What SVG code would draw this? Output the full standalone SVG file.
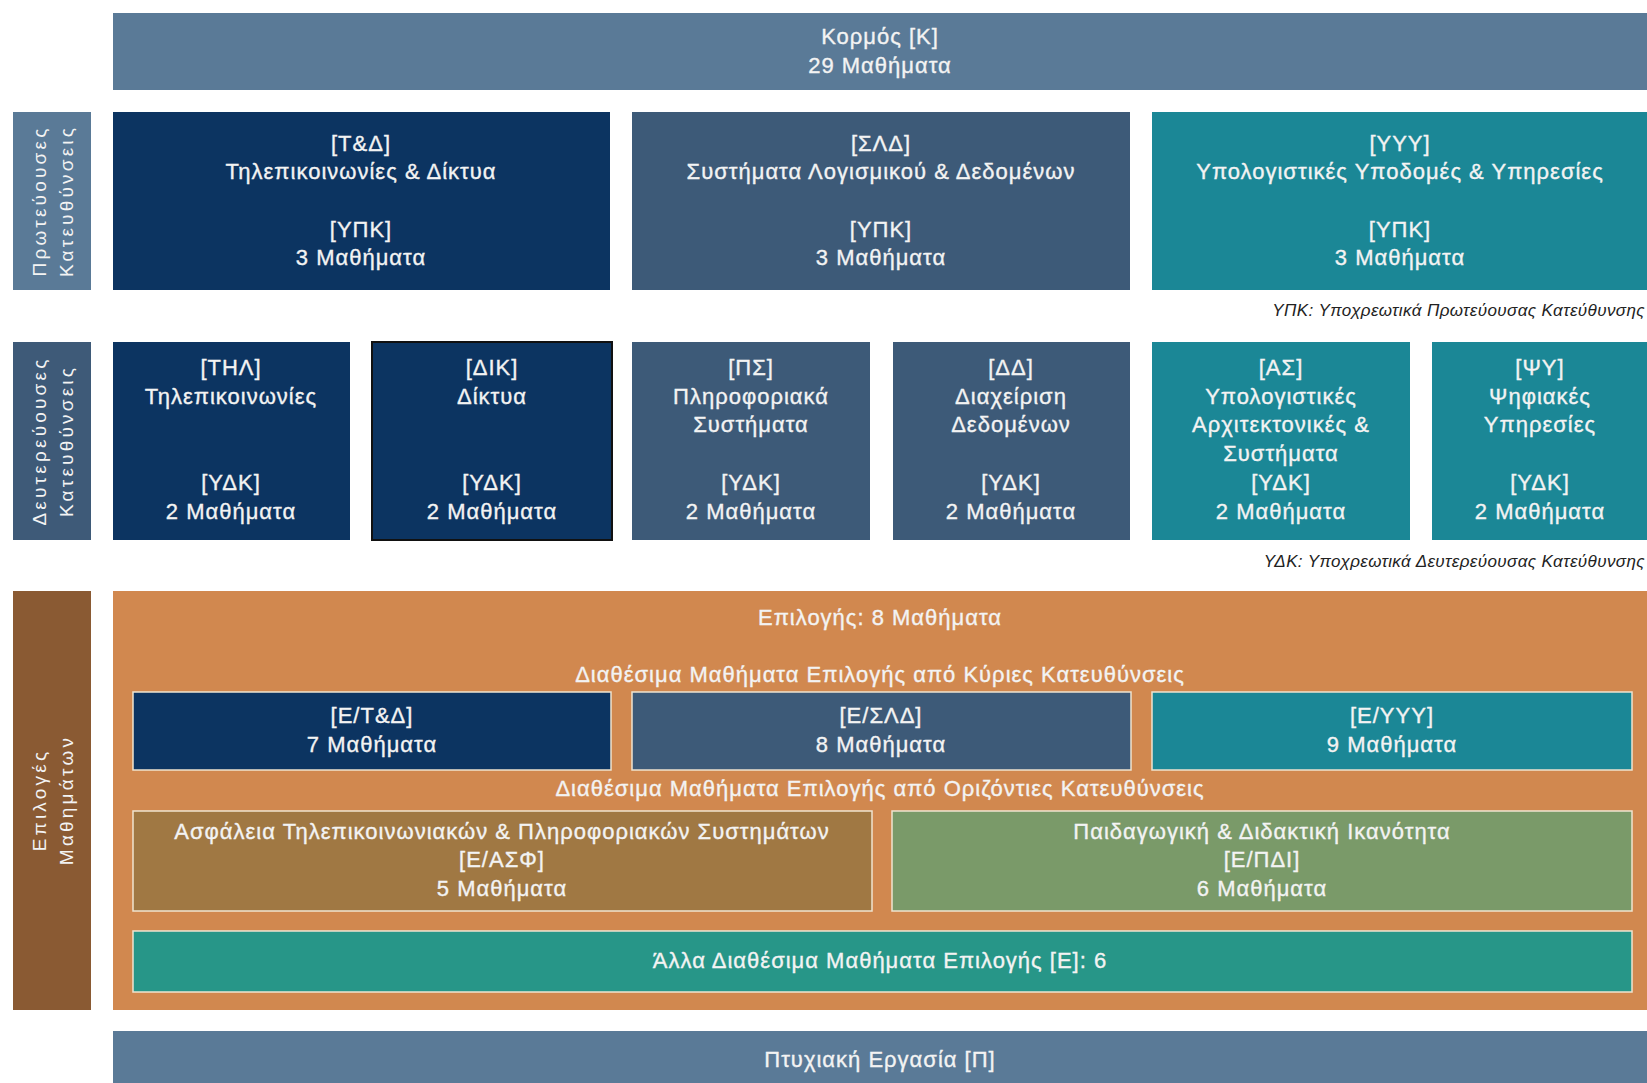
<svg xmlns="http://www.w3.org/2000/svg" width="1647" height="1083" viewBox="0 0 1647 1083">
<style>
text{font-family:"Liberation Sans",Arial,sans-serif;}
.t{font-size:22px;fill:#f3f3f3;stroke:#f3f3f3;stroke-width:0.35px;text-anchor:middle;letter-spacing:1px;}
.side{font-size:19px;fill:#f3f3f3;text-anchor:middle;letter-spacing:3.2px;}
.note{font-size:17px;fill:#222;font-style:italic;text-anchor:end;letter-spacing:0.4px;}
.inner{stroke:#efe3cf;stroke-width:1.5;}
</style>
<rect width="1647" height="1083" fill="#ffffff"/>
<g id="korm"><rect x="113" y="13" width="1534" height="77" fill="#5a7a97"/>
<text class="t" x="880" y="44">Κορμός [Κ]</text><text class="t" x="880" y="73">29 Μαθήματα</text></g>

<g id="side-primary"><rect x="13" y="112" width="78" height="178" fill="#5a7a97"/>
<text class="side" transform="translate(52,201) rotate(-90)"><tspan x="0" y="-6">Πρωτεύουσες</tspan><tspan x="0" y="21">Κατευθύνσεις</tspan></text></g>

<g id="td"><rect x="113" y="112" width="497" height="178" fill="#0c3461"/>
<text class="t" x="361" y="151">[Τ&amp;Δ]</text><text class="t" x="361" y="179">Τηλεπικοινωνίες &amp; Δίκτυα</text>
<text class="t" x="361" y="237">[ΥΠΚ]</text><text class="t" x="361" y="265">3 Μαθήματα</text></g>

<g id="sld"><rect x="632" y="112" width="498" height="178" fill="#3d5a78"/>
<text class="t" x="881" y="151">[ΣΛΔ]</text><text class="t" x="881" y="179">Συστήματα Λογισμικού &amp; Δεδομένων</text>
<text class="t" x="881" y="237">[ΥΠΚ]</text><text class="t" x="881" y="265">3 Μαθήματα</text></g>

<g id="yyy"><rect x="1152" y="112" width="495" height="178" fill="#1b8796"/>
<text class="t" x="1400" y="151">[ΥΥΥ]</text><text class="t" x="1400" y="179">Υπολογιστικές Υποδομές &amp; Υπηρεσίες</text>
<text class="t" x="1400" y="237">[ΥΠΚ]</text><text class="t" x="1400" y="265">3 Μαθήματα</text></g>

<text class="note" x="1645" y="316">ΥΠΚ: Υποχρεωτικά Πρωτεύουσας Κατεύθυνσης</text>

<g id="side-secondary"><rect x="13" y="342" width="78" height="198" fill="#3e5a78"/>
<text class="side" transform="translate(52,441) rotate(-90)"><tspan x="0" y="-6">Δευτερεύουσες</tspan><tspan x="0" y="21">Κατευθύνσεις</tspan></text></g>

<g id="thl"><rect x="113" y="342" width="237" height="198" fill="#0c3461"/>
<text class="t" x="231" y="375">[ΤΗΛ]</text><text class="t" x="231" y="404">Τηλεπικοινωνίες</text>
<text class="t" x="231" y="490">[ΥΔΚ]</text><text class="t" x="231" y="519">2 Μαθήματα</text></g>

<g id="dik"><rect x="372" y="342" width="240" height="198" fill="#0c3461" stroke="#111" stroke-width="2"/>
<text class="t" x="492" y="375">[ΔΙΚ]</text><text class="t" x="492" y="404">Δίκτυα</text>
<text class="t" x="492" y="490">[ΥΔΚ]</text><text class="t" x="492" y="519">2 Μαθήματα</text></g>

<g id="ps"><rect x="632" y="342" width="238" height="198" fill="#3d5a78"/>
<text class="t" x="751" y="375">[ΠΣ]</text><text class="t" x="751" y="404">Πληροφοριακά</text><text class="t" x="751" y="432">Συστήματα</text>
<text class="t" x="751" y="490">[ΥΔΚ]</text><text class="t" x="751" y="519">2 Μαθήματα</text></g>

<g id="dd"><rect x="893" y="342" width="237" height="198" fill="#3d5a78"/>
<text class="t" x="1011" y="375">[ΔΔ]</text><text class="t" x="1011" y="404">Διαχείριση</text><text class="t" x="1011" y="432">Δεδομένων</text>
<text class="t" x="1011" y="490">[ΥΔΚ]</text><text class="t" x="1011" y="519">2 Μαθήματα</text></g>

<g id="as"><rect x="1152" y="342" width="258" height="198" fill="#1b8796"/>
<text class="t" x="1281" y="375">[ΑΣ]</text><text class="t" x="1281" y="404">Υπολογιστικές</text><text class="t" x="1281" y="432">Αρχιτεκτονικές &amp;</text><text class="t" x="1281" y="461">Συστήματα</text>
<text class="t" x="1281" y="490">[ΥΔΚ]</text><text class="t" x="1281" y="519">2 Μαθήματα</text></g>

<g id="psy"><rect x="1432" y="342" width="215" height="198" fill="#1b8796"/>
<text class="t" x="1540" y="375">[ΨΥ]</text><text class="t" x="1540" y="404">Ψηφιακές</text><text class="t" x="1540" y="432">Υπηρεσίες</text>
<text class="t" x="1540" y="490">[ΥΔΚ]</text><text class="t" x="1540" y="519">2 Μαθήματα</text></g>

<text class="note" x="1645" y="567">ΥΔΚ: Υποχρεωτικά Δευτερεύουσας Κατεύθυνσης</text>

<g id="side-electives"><rect x="13" y="591" width="78" height="419" fill="#8a5a33"/>
<text class="side" transform="translate(52,800) rotate(-90)"><tspan x="0" y="-6">Επιλογές</tspan><tspan x="0" y="21">Μαθημάτων</tspan></text></g>

<g id="electives"><rect x="113" y="591" width="1534" height="419" fill="#d1884f"/>
<text class="t" x="880" y="625">Επιλογής: 8 Μαθήματα</text>
<text class="t" x="880" y="682">Διαθέσιμα Μαθήματα Επιλογής από Κύριες Κατευθύνσεις</text>
<text class="t" x="880" y="796">Διαθέσιμα Μαθήματα Επιλογής από Οριζόντιες Κατευθύνσεις</text></g>

<g id="e-td"><rect class="inner" x="133" y="692" width="478" height="78" fill="#0c3461"/>
<text class="t" x="372" y="723">[Ε/Τ&amp;Δ]</text><text class="t" x="372" y="752">7 Μαθήματα</text></g>

<g id="e-sld"><rect class="inner" x="632" y="692" width="499" height="78" fill="#3d5a78"/>
<text class="t" x="881" y="723">[Ε/ΣΛΔ]</text><text class="t" x="881" y="752">8 Μαθήματα</text></g>

<g id="e-yyy"><rect class="inner" x="1152" y="692" width="480" height="78" fill="#1b8796"/>
<text class="t" x="1392" y="723">[Ε/ΥΥΥ]</text><text class="t" x="1392" y="752">9 Μαθήματα</text></g>

<g id="e-asf"><rect class="inner" x="133" y="811" width="739" height="100" fill="#a07843"/>
<text class="t" x="502" y="839">Ασφάλεια Τηλεπικοινωνιακών &amp; Πληροφοριακών Συστημάτων</text>
<text class="t" x="502" y="867">[Ε/ΑΣΦ]</text><text class="t" x="502" y="896">5 Μαθήματα</text></g>

<g id="e-pdi"><rect class="inner" x="892" y="811" width="740" height="100" fill="#7a9a69"/>
<text class="t" x="1262" y="839">Παιδαγωγική &amp; Διδακτική Ικανότητα</text>
<text class="t" x="1262" y="867">[Ε/ΠΔΙ]</text><text class="t" x="1262" y="896">6 Μαθήματα</text></g>

<g id="e-other"><rect class="inner" x="133" y="931" width="1499" height="61" fill="#279688"/>
<text class="t" x="880" y="968">Άλλα Διαθέσιμα Μαθήματα Επιλογής [Ε]: 6</text></g>

<g id="thesis"><rect x="113" y="1031" width="1534" height="60" fill="#5a7a97"/>
<text class="t" x="880" y="1067">Πτυχιακή Εργασία [Π]</text></g>

<g id="connectors"></g>
</svg>
